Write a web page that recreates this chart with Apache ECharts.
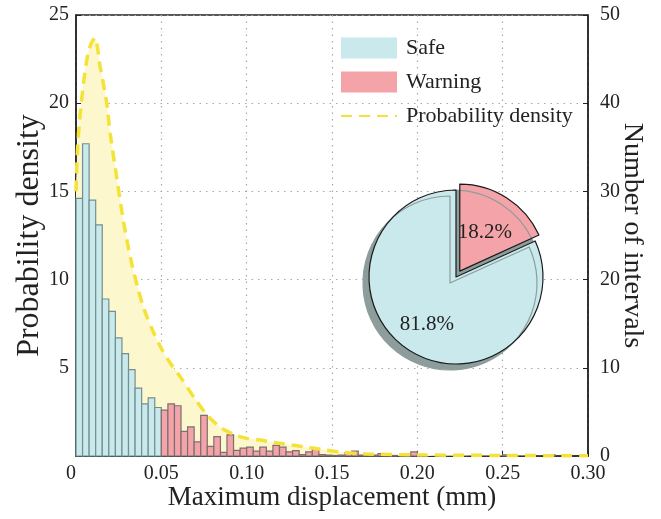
<!DOCTYPE html>
<html>
<head>
<meta charset="utf-8">
<script src="https://cdn.jsdelivr.net/npm/echarts@6/dist/echarts.min.js"></script>
<style>
  html, body { margin: 0; padding: 0; background: #fff; }
  #chart { width: 661px; height: 519px; }
</style>
</head>
<body>
<div id="chart"></div>
<script>
// histogram, bins of equal width starting at 0
const binWidth = 0.05 / 13;
const safeDensity = [14.6, 17.7, 14.5, 13.1, 8.9, 8.2, 6.7, 5.8, 4.9, 3.85, 2.95, 3.3, 2.75];
const warningDensity = [
  2.6, 2.95, 2.85, 1.4, 1.65, 0.8, 2.3, 0.55, 1.1, 0.2, 1.2,
  0.32, 0.45, 0.5, 0.28, 0.5, 0.28, 0.6, 0.5, 0.23, 0.3, 0.08, 0.23, 0.42, 0.08,
  0.05, 0.03, 0.05, 0.19, 0.28, 0.05, 0.03, 0.05, 0.13, 0.09, 0.03, 0, 0.03, 0.23,
  0, 0, 0, 0, 0, 0, 0, 0, 0, 0, 0, 0, 0, 0.07, 0, 0, 0, 0, 0, 0, 0.07
];

// fitted probability density curve
const densityX = [0, 0.001, 0.0033, 0.0072, 0.011, 0.0141, 0.018, 0.02, 0.024, 0.028, 0.032, 0.036,
  0.04, 0.045, 0.05, 0.055, 0.061, 0.07, 0.0775, 0.085, 0.093, 0.1, 0.107, 0.117, 0.126, 0.135,
  0.144, 0.155, 0.17, 0.2, 0.25, 0.3];
const densityY = [15, 17.6, 20.2, 22.9, 23.7, 22.1, 20.0, 18.3, 15.7, 13.2, 11.2, 9.6,
  8.3, 7.1, 6.1, 5.3, 4.5, 3.2, 2.25, 1.6, 1.2, 1.0, 0.92, 0.75, 0.63, 0.5,
  0.37, 0.22, 0.12, 0.06, 0.03, 0.01];

const pieNames = ['Warning', 'Safe'];
const pieShares = [18.2, 81.8];

const serif = 'Liberation Serif, Times New Roman, serif';
const safeFill = '#c9e9ec';
const warnFill = '#f4a4a8';
const gridDots = { type: [1.5, 5], color: '#a8a8a8', width: 1.2 };

function bins(values, offset) {
  return values.map((v, i) => [(offset + i) * binWidth, (offset + i + 1) * binWidth, v]);
}

function renderBin(fill, stroke) {
  return function (params, api) {
    const h = api.value(2);
    if (h <= 0) return null;
    const p0 = api.coord([api.value(0), h]);
    const p1 = api.coord([api.value(1), 0]);
    return {
      type: 'rect',
      shape: { x: p0[0], y: p0[1], width: p1[0] - p0[0], height: p1[1] - p0[1] },
      style: { fill: fill, stroke: stroke, lineWidth: 1.2 }
    };
  };
}

const curve = densityX.map((x, i) => [x, densityY[i]]);

const chart = echarts.init(document.getElementById('chart'));
chart.setOption({
  animation: false,
  backgroundColor: '#fff',
  textStyle: { fontFamily: serif, color: '#222' },
  grid: {
    left: 76, right: 73, top: 15, bottom: 63,
    outerBoundsMode: 'none',
    show: true, borderColor: '#222', borderWidth: 1.5, backgroundColor: 'transparent'
  },
  legend: {
    orient: 'vertical',
    left: 340,
    top: 37,
    padding: 0,
    itemWidth: 56,
    itemHeight: 21,
    itemGap: 12,
    textStyle: { fontFamily: serif, fontSize: 22, color: '#222', padding: [0, 0, 0, 4] },
    data: [
      { name: 'Safe', icon: 'rect', itemStyle: { borderWidth: 0 } },
      { name: 'Warning', icon: 'rect', itemStyle: { borderWidth: 0 } },
      { name: 'Probability density', itemStyle: { opacity: 0 } }
    ]
  },
  xAxis: {
    type: 'value',
    min: 0,
    max: 0.3,
    interval: 0.05,
    name: 'Maximum displacement (mm)',
    nameLocation: 'middle',
    nameGap: 28,
    nameMoveOverlap: false,
    nameTextStyle: { fontFamily: serif, fontSize: 27, color: '#222' },
    axisLine: { lineStyle: { color: '#222', width: 1.5 } },
    axisTick: { inside: true, length: 5, lineStyle: { color: '#222' } },
    axisLabel: {
      fontFamily: serif, fontSize: 20, color: '#222', margin: 8,
      alignMinLabel: 'right',
      formatter: v => (v === 0 ? '0' : v.toFixed(2))
    },
    splitLine: { show: true, lineStyle: gridDots }
  },
  yAxis: [
    {
      type: 'value',
      min: 0,
      max: 25,
      interval: 5,
      name: 'Probability density',
      nameLocation: 'middle',
      nameGap: 30,
      nameMoveOverlap: false,
      nameTextStyle: { fontFamily: serif, fontSize: 32, color: '#222' },
      axisLine: { show: true, lineStyle: { color: '#222', width: 1.5 } },
      axisTick: { show: true, inside: true, length: 5, lineStyle: { color: '#222' } },
      axisLabel: { fontFamily: serif, fontSize: 20, color: '#222', margin: 7, showMinLabel: false },
      splitLine: { show: true, lineStyle: gridDots }
    },
    {
      type: 'value',
      min: 0,
      max: 50,
      interval: 10,
      position: 'right',
      name: 'Number of intervals',
      nameLocation: 'middle',
      nameGap: 30,
      nameMoveOverlap: false,
      nameRotate: -90,
      nameTextStyle: { fontFamily: serif, fontSize: 28, color: '#222' },
      axisLine: { show: true, lineStyle: { color: '#222', width: 1.5 } },
      axisTick: { show: true, inside: true, length: 5, lineStyle: { color: '#222' } },
      axisLabel: { fontFamily: serif, fontSize: 20, color: '#222', margin: 12 },
      splitLine: { show: false }
    }
  ],
  series: [
    {
      type: 'line',
      data: curve,
      smooth: 0.3,
      symbol: 'none',
      silent: true,
      z: 1,
      lineStyle: { width: 0, opacity: 0 },
      areaStyle: { color: '#fcf7cc', opacity: 1 }
    },
    {
      name: 'Safe',
      type: 'custom',
      data: bins(safeDensity, 0),
      encode: { x: [0, 1], y: 2 },
      renderItem: renderBin(safeFill, '#71908f'),
      itemStyle: { color: safeFill },
      z: 2
    },
    {
      name: 'Warning',
      type: 'custom',
      data: bins(warningDensity, safeDensity.length),
      encode: { x: [0, 1], y: 2 },
      renderItem: renderBin(warnFill, '#7d6f70'),
      itemStyle: { color: warnFill },
      z: 2
    },
    {
      name: 'Probability density',
      type: 'line',
      data: curve,
      smooth: 0.3,
      symbol: 'none',
      z: 3,
      itemStyle: { color: '#f4e237' },
      lineStyle: { color: '#f4e237', width: 3.5, type: [11, 7] }
    },
    {
      type: 'pie',
      center: [456, 277],
      radius: 87,
      startAngle: 90,
      clockwise: true,
      selectedMode: 'single',
      selectedOffset: 7,
      z: 5,
      emphasis: { disabled: true },
      labelLine: { show: false },
      label: {
        position: 'inside',
        fontFamily: serif,
        fontSize: 21,
        color: '#222',
        formatter: p => p.value.toFixed(1) + '%'
      },
      itemStyle: {
        borderColor: '#1a1a1a',
        borderWidth: 1.2,
        shadowColor: '#8c9d9b',
        shadowOffsetX: -6,
        shadowOffsetY: 6,
        shadowBlur: 0
      },
      data: pieNames.map((n, i) => ({
        name: n + ' share',
        value: pieShares[i],
        selected: i === 0,
        itemStyle: { color: i === 0 ? warnFill : safeFill },
        label: { offset: i === 0 ? [9, -5] : [-4, 8] }
      }))
    }
  ]
});
</script>
</body>
</html>
